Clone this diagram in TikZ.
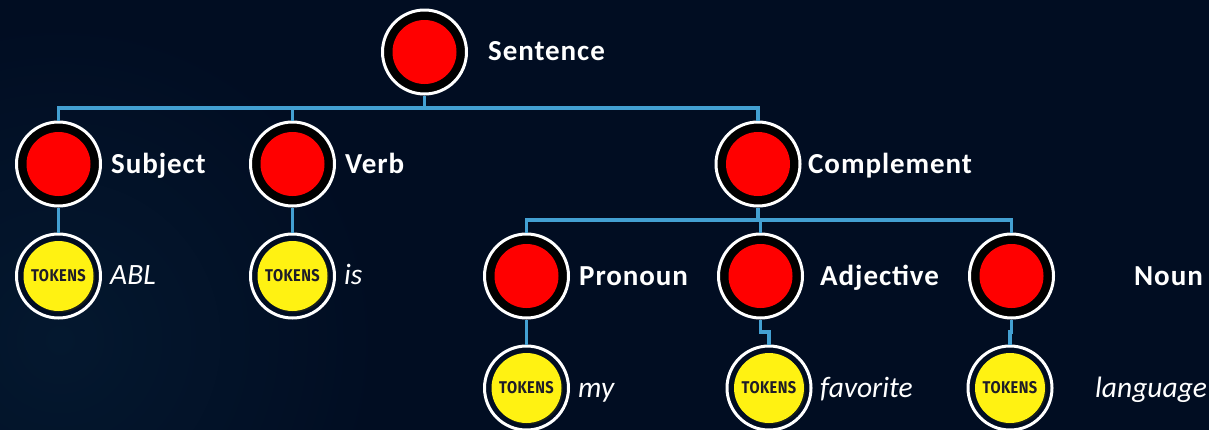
\documentclass[tikz,border=0pt]{standalone}
\usepackage{fontspec}
\setmainfont{Carlito}[LetterSpace=3.2]
\newfontfamily\wordfont{Carlito}
\newfontfamily\tokenfont{Fira Sans}[LetterSpace=3]
\usetikzlibrary{shadows}
\definecolor{navy}{HTML}{010D22}
\definecolor{navylight}{HTML}{04182F}
\definecolor{wire}{HTML}{43A0D2}
\definecolor{tokenyellow}{HTML}{FFF212}
\definecolor{tokenink}{HTML}{1E1C28}
\tikzset{
  wirepath/.style={wire, line width=3.2pt},
  ring/.style={circle, draw=white, line width=3pt, fill=black, minimum size=84pt, inner sep=0pt},
  tokenring/.style={ring, fill=navy},
  reddot/.style={circle, fill=red, minimum size=64pt, inner sep=0pt},
  yellowdot/.style={circle, fill=tokenyellow, minimum size=70pt, inner sep=0pt, text=tokenink,
    drop shadow={shadow xshift=1.5pt, shadow yshift=-1.5pt, fill=black!70!tokenyellow!30!navy, opacity=1},
    font=\tokenfont\bfseries\fontsize{17}{17}\selectfont},
  phrase/.style={anchor=base west, inner sep=0pt, text=white, font=\bfseries\fontsize{29}{29}\selectfont},
  word/.style={anchor=base west, inner sep=0pt, text=white, font=\wordfont\itshape\fontsize{29.5}{29.5}\selectfont}
}
\newcommand{\tokenstext}{\scalebox{.86}[1]{TOKENS}}
\begin{document}
\begin{tikzpicture}[x=1pt, y=-1pt]
\useasboundingbox (0,0) rectangle (1209,429);
\fill [navy] (-3,-3) rectangle (1212,432);
\begin{scope}
\clip (-3,-3) rectangle (1212,432);
\shade [inner color=navylight, outer color=navy] (60,340) circle [radius=320];
\end{scope}

\coordinate (topbus) at (424.5,108);
\coordinate (lowbus) at (758,220);
\coordinate (adjectivejog) at (769,332);
\coordinate (nounjog) at (1010,332);

\node [ring] (sentence) at (424.5,52) {};
\node [reddot] (sentencedot) at (sentence) {};
\node [phrase] (sentencetext) at (488,60) {Sentence};

\node [ring] (subject) at (58.5,164) {};
\node [reddot] (subjectdot) at (subject) {};
\node [phrase] (subjecttext) at (111,173) {Subject};

\node [ring] (verb) at (292.5,164) {};
\node [reddot] (verbdot) at (verb) {};
\node [phrase] (verbtext) at (345,173) {Verb};

\node [ring] (complement) at (758,164) {};
\node [reddot] (complementdot) at (complement) {};
\node [phrase] (complementtext) at (808,173) {Complement};

\node [ring] (pronoun) at (526.5,276) {};
\node [reddot] (pronoundot) at (pronoun) {};
\node [phrase] (pronountext) at (579,285) {Pronoun};

\node [ring] (adjective) at (760.5,276) {};
\node [reddot] (adjectivedot) at (adjective) {};
\node [phrase] (adjectivetext) at (820,285) {Adjective};

\node [ring] (noun) at (1011.5,276) {};
\node [reddot] (noundot) at (noun) {};
\node [phrase] (nountext) at (1134,285) {Noun};

\node [tokenring] (abl) at (58.5,276) {};
\node [yellowdot] (abldot) at (abl) {\tokenstext};
\node [word] (abltext) at (110,284) {ABL};

\node [tokenring] (is) at (292.5,276) {};
\node [yellowdot] (isdot) at (is) {\tokenstext};
\node [word] (istext) at (344,284) {is};

\node [tokenring] (my) at (526.5,388) {};
\node [yellowdot] (mydot) at (my) {\tokenstext};
\node [word] (mytext) at (578,397) {my};

\node [tokenring] (favorite) at (769,388) {};
\node [yellowdot] (favoritedot) at (favorite) {\tokenstext};
\node [word] (favoritetext) at (820,397) {favorite};

\node [tokenring] (language) at (1010,388) {};
\node [yellowdot] (languagedot) at (language) {\tokenstext};
\node [word] (languagetext) at (1095,397) {language};

\draw [wirepath] (sentence.south) -- (topbus);
\draw [wirepath] (subject.north) |- (topbus);
\draw [wirepath] (verb.north) |- (topbus);
\draw [wirepath] (complement.north) |- (topbus);
\draw [wirepath] (complement.south) -- (lowbus);
\draw [wirepath] (pronoun.north) |- (lowbus);
\draw [wirepath] (adjective.north) |- (lowbus);
\draw [wirepath] (noun.north) |- (lowbus);
\draw [wirepath] (subject.south) -- (abl.north);
\draw [wirepath] (verb.south) -- (is.north);
\draw [wirepath] (pronoun.south) -- (my.north);
\draw [wirepath] (adjective.south) |- (adjectivejog) -- (favorite.north);
\draw [wirepath] (noun.south) |- (nounjog) -- (language.north);
\end{tikzpicture}
\end{document}
